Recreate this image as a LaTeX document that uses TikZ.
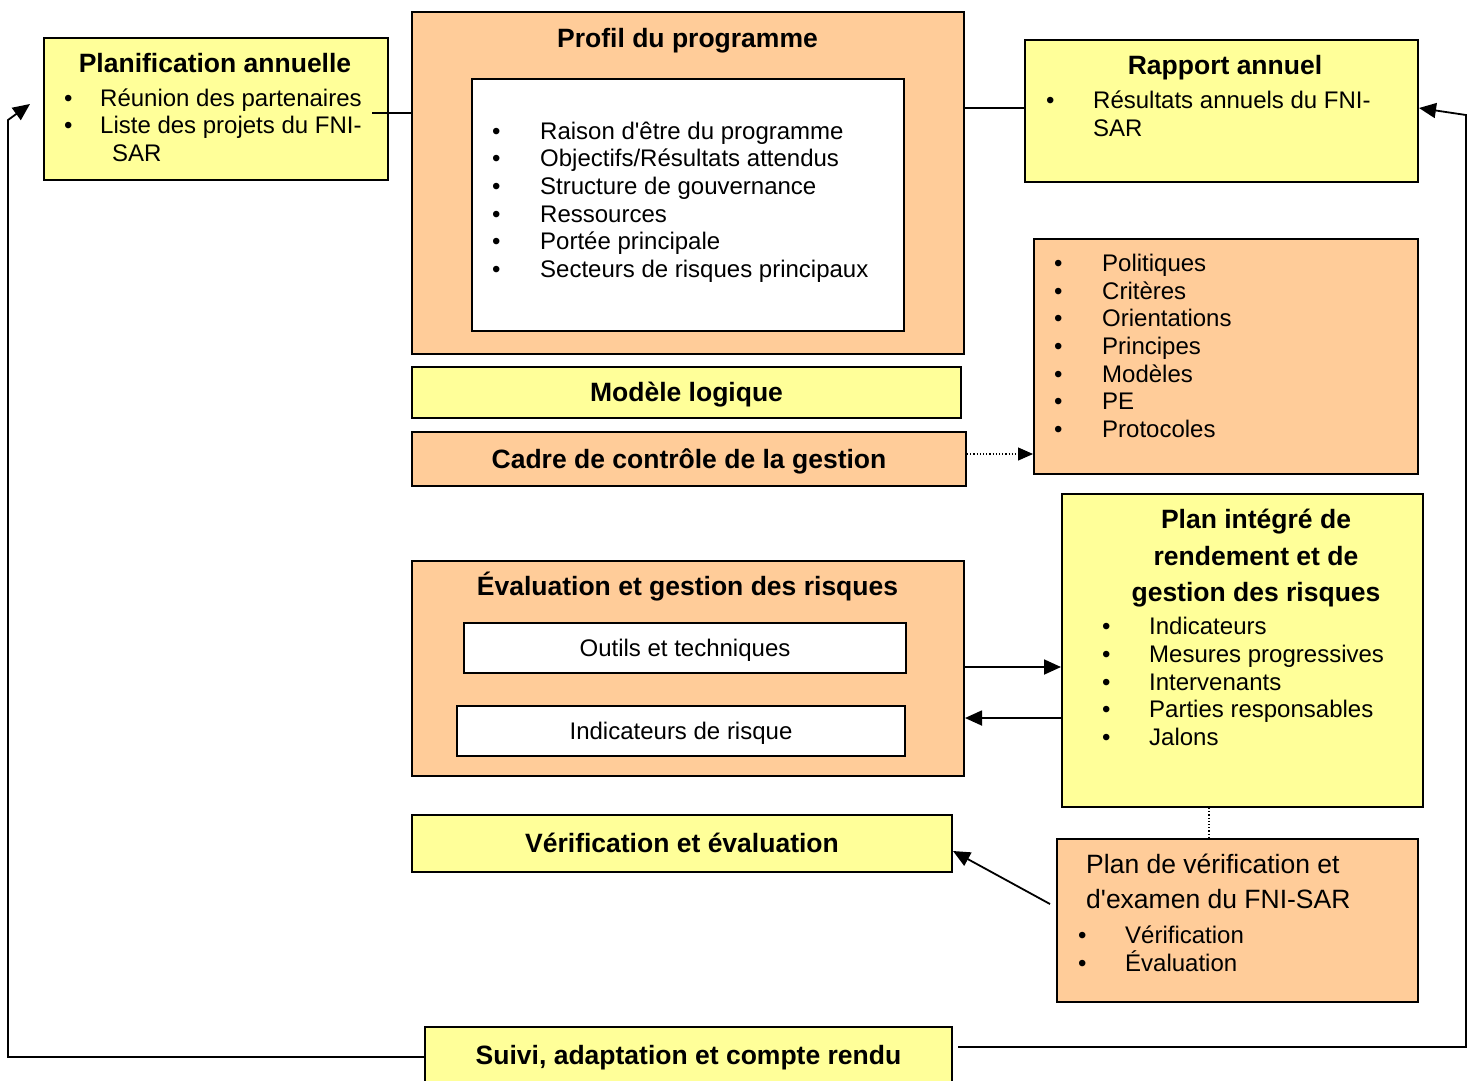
\documentclass[tikz,border=0pt]{standalone}
\usepackage{fontspec}
\setmainfont{Liberation Sans}
\usetikzlibrary{arrows.meta}
\definecolor{boxyellow}{HTML}{FFFF99}
\definecolor{boxorange}{HTML}{FFCC99}
\newcommand{\itm}[2][47pt]{\makebox[#1][l]{\textbullet}#2}

\begin{document}
\begin{tikzpicture}[x=1pt,y=-1pt]
    \tikzset{box/.style={draw, line width=2pt, inner sep=0pt, anchor=north west,
                font=\fontsize{24}{28}\selectfont, text height=18pt, text depth=0.8pt},
             yelbox/.style={box, fill=boxyellow},
             orbox/.style={box, fill=boxorange},
             whbox/.style={box, fill=white},
             boldtext/.style={font=\fontsize{26.5}{32}\selectfont\bfseries,
                text height=20pt, text depth=2pt},
             title/.style={inner sep=0pt, anchor=base, align=center,
                font=\fontsize{26.5}{36.5}\selectfont\bfseries},
             list/.style={inner sep=0pt, anchor=base west, align=left,
                font=\fontsize{24}{27.7}\selectfont},
             link/.style={line width=1.8pt},
             arr/.style={link, -{Triangle[length=17pt,width=15pt]}},
             dotarr/.style={line width=1.2pt, dotted, -{Triangle[length=15pt,width=13pt]}}}
    \useasboundingbox (0,0) rectangle (1474,1080);

    \node[yelbox, minimum width=344pt, minimum height=142pt] (plan) at (43,37) {};
    \node[orbox, minimum width=552pt, minimum height=342pt] (prof) at (411,11) {};
    \node[whbox, minimum width=432pt, minimum height=252pt] (profin) at (471,78) {};
    \node[yelbox, minimum width=393pt, minimum height=142pt] (rap) at (1024,39) {};
    \node[orbox, minimum width=384pt, minimum height=235pt] (pol) at (1033,238) {};
    \node[yelbox, boldtext, minimum width=549pt, minimum height=51pt] (mod) at (411,366) {Modèle logique};
    \node[orbox, boldtext, minimum width=554pt, minimum height=54pt] (cadre) at (411,431) {Cadre de contrôle de la gestion};
    \node[orbox, minimum width=552pt, minimum height=215pt] (eval) at (411,560) {};
    \node[whbox, minimum width=442pt, minimum height=50pt] (outils) at (463,622) {Outils et techniques};
    \node[whbox, minimum width=448pt, minimum height=50pt] (indic) at (456,705) {Indicateurs de risque};
    \node[yelbox, minimum width=361pt, minimum height=313pt] (pir) at (1061,493) {};
    \node[yelbox, boldtext, minimum width=540pt, minimum height=57pt] (verif) at (411,814) {Vérification et évaluation};
    \node[orbox, minimum width=361pt, minimum height=163pt] (pv) at (1056,838) {};
    \node[yelbox, boldtext, minimum width=527pt, minimum height=56pt] (suivi) at (424,1026) {Suivi, adaptation et compte rendu};

    \node[title] (plan-t) at (215,72.5) {Planification annuelle};
    \node[list] (plan-l) at (64,161.6) {\itm[36pt]{Réunion des partenaires}\\
        \itm[36pt]{Liste des projets du FNI-}\\
        \hspace*{48pt}SAR};
    \node[title] (prof-t) at (687.5,47.5) {Profil du programme};
    \node[list] (prof-l) at (492,277.6) {\itm[48pt]{Raison d\textquotesingle être du programme}\\
        \itm[48pt]{Objectifs/Résultats attendus}\\
        \itm[48pt]{Structure de gouvernance}\\
        \itm[48pt]{Ressources}\\
        \itm[48pt]{Portée principale}\\
        \itm[48pt]{Secteurs de risques principaux}};
    \node[title] (rap-t) at (1225,74.5) {Rapport annuel};
    \node[list] (rap-l) at (1046,136.5) {\itm{Résultats annuels du FNI-}\\
        \hspace*{47pt}SAR};
    \node[list] (pol-l) at (1054,437.6) {\itm[48pt]{Politiques}\\
        \itm[48pt]{Critères}\\
        \itm[48pt]{Orientations}\\
        \itm[48pt]{Principes}\\
        \itm[48pt]{Modèles}\\
        \itm[48pt]{PE}\\
        \itm[48pt]{Protocoles}};
    \node[title] (eval-t) at (687.5,595.5) {Évaluation et gestion des risques};
    \node[title] (pir-t) at (1256,601.5) {Plan intégré de\\rendement et de\\gestion des risques};
    \node[list] (pir-l) at (1102,745.6) {\itm{Indicateurs}\\
        \itm{Mesures progressives}\\
        \itm{Intervenants}\\
        \itm{Parties responsables}\\
        \itm{Jalons}};
    \node[list, font=\fontsize{26.5}{35}\selectfont] (pv-t) at (1086,908.5) {Plan de vérification et\\
        d\textquotesingle examen du FNI-SAR};
    \node[list] (pv-l) at (1078,971.6) {\itm{Vérification}\\
        \itm{Évaluation}};

    \coordinate (plan-out) at (372,113);
    \coordinate (rap-in) at ([yshift=3pt]rap.west);
    \coordinate (cadre-out) at ([yshift=5pt]cadre.east);
    \coordinate (eval-out) at ([yshift=1.5pt]eval.east);
    \coordinate (eval-in) at ([yshift=-49.5pt]eval.east);
    \coordinate (pir-dot) at ([xshift=-33.5pt]pir.south);
    \coordinate (pv-out) at ([xshift=-6pt,yshift=16.5pt]pv.west);
    \coordinate (verif-in) at ([yshift=-7.5pt]verif.east);
    \coordinate (plan-in) at ([xshift=-13pt,yshift=5pt]plan.west);
    \coordinate (left-low) at (8,1057);
    \coordinate (left-up) at (8,120);
    \coordinate (right-low) at (1466,1047);
    \coordinate (right-up) at (1466,115);

    \draw[link] (plan-out) -- (plan-out -| prof.west);
    \draw[link] (rap-in -| prof.east) -- (rap-in);
    \draw[dotarr] (cadre-out) -- (cadre-out -| pol.west);
    \draw[arr] (eval-out) -- (eval-out -| pir.west);
    \draw[arr] (eval-in -| pir.west) -- (eval-in);
    \draw[line width=1.2pt, dotted] (pir-dot) -- (pir-dot |- pv.north);
    \draw[arr] (pv-out) -- (verif-in);
    \draw[arr] (left-low -| suivi.west) -- (left-low) -- (left-up) -- (plan-in);
    \draw[arr, shorten <=5pt] (right-low -| suivi.east) -- (right-low) -- (right-up) -- (rap-in -| rap.east);
\end{tikzpicture}
\end{document}
